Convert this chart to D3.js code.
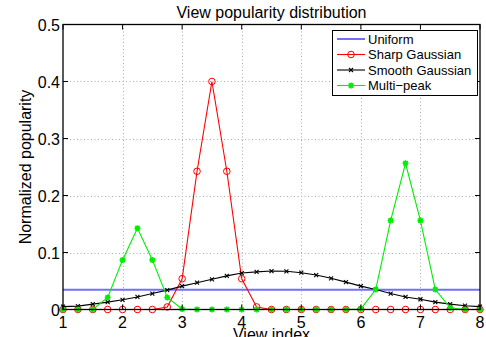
<!DOCTYPE html>
<html>
<head>
<meta charset="utf-8">
<script src="https://cdn.jsdelivr.net/npm/d3@7/dist/d3.min.js"></script>
<style>
  html, body { margin: 0; padding: 0; background: #fff; }
  svg { display: block; font-family: "Liberation Sans", Arial, sans-serif; }
</style>
</head>
<body>
<svg id="chart" width="486" height="337"></svg>
<script>
// View indices (0.25 steps from 1 to 8)
const viewIndex = [1, 1.25, 1.5, 1.75, 2, 2.25, 2.5, 2.75, 3, 3.25, 3.5, 3.75, 4, 4.25, 4.5,
  4.75, 5, 5.25, 5.5, 5.75, 6, 6.25, 6.5, 6.75, 7, 7.25, 7.5, 7.75, 8];

const uniform = [0.0345, 0.0345, 0.0345, 0.0345, 0.0345, 0.0345, 0.0345, 0.0345, 0.0345, 0.0345,
  0.0345, 0.0345, 0.0345, 0.0345, 0.0345, 0.0345, 0.0345, 0.0345, 0.0345, 0.0345, 0.0345, 0.0345,
  0.0345, 0.0345, 0.0345, 0.0345, 0.0345, 0.0345, 0.0345];

const sharpGaussian = [0, 0, 0, 0, 0, 0, 0, 0.0045, 0.054, 0.2425, 0.4, 0.2425, 0.054, 0.0045, 0,
  0, 0, 0, 0, 0, 0, 0, 0, 0, 0, 0, 0, 0, 0];

const smoothGaussian = [0.005, 0.006, 0.0095, 0.013, 0.017, 0.022, 0.028, 0.034, 0.041, 0.047,
  0.053, 0.059, 0.064, 0.066, 0.0675, 0.067, 0.0645, 0.0605, 0.0547, 0.048, 0.041, 0.035, 0.028,
  0.022, 0.018, 0.013, 0.0095, 0.0067, 0.005];

const multiPeak = [0, 0, 0, 0.021, 0.087, 0.1425, 0.087, 0.021, 0.001, 0, 0, 0, 0, 0, 0, 0, 0, 0,
  0, 0, 0.001, 0.035, 0.156, 0.2565, 0.156, 0.035, 0.003, 0, 0];

const xTicks = [1, 2, 3, 4, 5, 6, 7, 8];
const yTicks = [0, 0.1, 0.2, 0.3, 0.4, 0.5];
const yTickLabels = ["0", "0.1", "0.2", "0.3", "0.4", "0.5"];

const seriesNames = ["Uniform", "Sharp Gaussian", "Smooth Gaussian", "Multi\u2212peak"];
const seriesColors = ["#7070ff", "#ff0000", "#000000", "#00ee00"];
const seriesMarkers = ["none", "circle", "cross", "star"];

const series = [uniform, sharpGaussian, smoothGaussian, multiPeak].map((vals, i) => ({
  name: seriesNames[i], color: seriesColors[i], marker: seriesMarkers[i],
  points: vals.map((v, j) => [viewIndex[j], v])
}));

const svg = d3.select("#chart");
const m = { left: 63, right: 480, top: 24.5, bottom: 309.5 };

const x = d3.scaleLinear().domain([1, 8]).range([m.left, m.right]);
const y = d3.scaleLinear().domain([0, 0.5]).range([m.bottom, m.top]);

// dotted grid
const grid = svg.append("g").attr("stroke", "#aaa").attr("stroke-width", 1)
  .attr("stroke-dasharray", "1,2.5");
xTicks.slice(1, -1).forEach(t => grid.append("line")
  .attr("x1", Math.round(x(t)) + 0.5).attr("x2", Math.round(x(t)) + 0.5)
  .attr("y1", m.top).attr("y2", m.bottom));
yTicks.slice(1, -1).forEach(t => grid.append("line")
  .attr("y1", Math.round(y(t)) + 0.5).attr("y2", Math.round(y(t)) + 0.5)
  .attr("x1", m.left).attr("x2", m.right));

// data lines
const line = d3.line().x(d => x(d[0])).y(d => y(d[1]));
const plot = svg.append("g");

function drawMarker(g, type, color, px, py) {
  if (type === "circle") {
    g.append("circle").attr("cx", px).attr("cy", py).attr("r", 3.3)
      .attr("fill", "none").attr("stroke", color).attr("stroke-width", 1);
  } else if (type === "cross") {
    const s = 2;
    g.append("path").attr("d", `M${px - s},${py - s}L${px + s},${py + s}M${px - s},${py + s}L${px + s},${py - s}`)
      .attr("stroke", color).attr("stroke-width", 1.1).attr("fill", "none");
  } else if (type === "star") {
    const s = 3, d = 2.2;
    g.append("path").attr("d",
      `M${px - s},${py}L${px + s},${py}M${px},${py - s}L${px},${py + s}` +
      `M${px - d},${py - d}L${px + d},${py + d}M${px - d},${py + d}L${px + d},${py - d}`)
      .attr("stroke", color).attr("stroke-width", 1.6).attr("fill", "none");
  }
}

series.forEach(s => {
  const g = plot.append("g");
  g.append("path").datum(s.points).attr("d", line)
    .attr("fill", "none").attr("stroke", s.color)
    .attr("stroke-width", s.marker === "none" ? 2 : 1.1);
  s.points.forEach(p => drawMarker(g, s.marker, s.color, x(p[0]), y(p[1])));
});

// axes box and inward ticks
const axes = svg.append("g").attr("stroke", "#000");
axes.append("rect").attr("x", m.left).attr("y", m.top)
  .attr("width", m.right - m.left).attr("height", m.bottom - m.top)
  .attr("fill", "none").attr("stroke-width", 1.3);
const tl = 5;
xTicks.forEach(t => {
  axes.append("line").attr("x1", x(t)).attr("x2", x(t)).attr("y1", m.bottom).attr("y2", m.bottom - tl);
  axes.append("line").attr("x1", x(t)).attr("x2", x(t)).attr("y1", m.top).attr("y2", m.top + tl);
});
yTicks.forEach(t => {
  axes.append("line").attr("y1", y(t)).attr("y2", y(t)).attr("x1", m.left).attr("x2", m.left + tl);
  axes.append("line").attr("y1", y(t)).attr("y2", y(t)).attr("x1", m.right).attr("x2", m.right - tl);
});

// tick labels
svg.append("g").selectAll("text").data(xTicks).join("text")
  .attr("x", d => x(d)).attr("y", 328)
  .attr("text-anchor", "middle").attr("font-size", 16).text(d => d);
svg.append("g").selectAll("text").data(yTicks).join("text")
  .attr("x", 60).attr("y", d => y(d) + 6)
  .attr("text-anchor", "end").attr("font-size", 16).text((d, i) => yTickLabels[i]);

// titles
svg.append("text").attr("x", (m.left + m.right) / 2).attr("y", 18)
  .attr("text-anchor", "middle").attr("font-size", 16).text("View popularity distribution");
svg.append("text").attr("x", (m.left + m.right) / 2).attr("y", 340)
  .attr("text-anchor", "middle").attr("font-size", 16).text("View index");
svg.append("text")
  .attr("transform", `translate(31,${(m.top + m.bottom) / 2}) rotate(-90)`)
  .attr("text-anchor", "middle").attr("font-size", 16).text("Normalized popularity");

// legend
const lg = svg.append("g");
lg.append("rect").attr("x", 332.5).attr("y", 30.5).attr("width", 145).attr("height", 65)
  .attr("fill", "#fff").attr("stroke", "#000").attr("stroke-width", 1);
series.forEach((s, i) => {
  const ly = 39 + i * 15.5;
  lg.append("line").attr("x1", 337).attr("x2", 365).attr("y1", ly).attr("y2", ly)
    .attr("stroke", s.color).attr("stroke-width", s.marker === "none" ? 2 : 1.1);
  drawMarker(lg, s.marker, s.color, 351, ly);
  lg.append("text").attr("x", 368).attr("y", ly + 4.5).attr("font-size", 13).text(s.name);
});
</script>
</body>
</html>
